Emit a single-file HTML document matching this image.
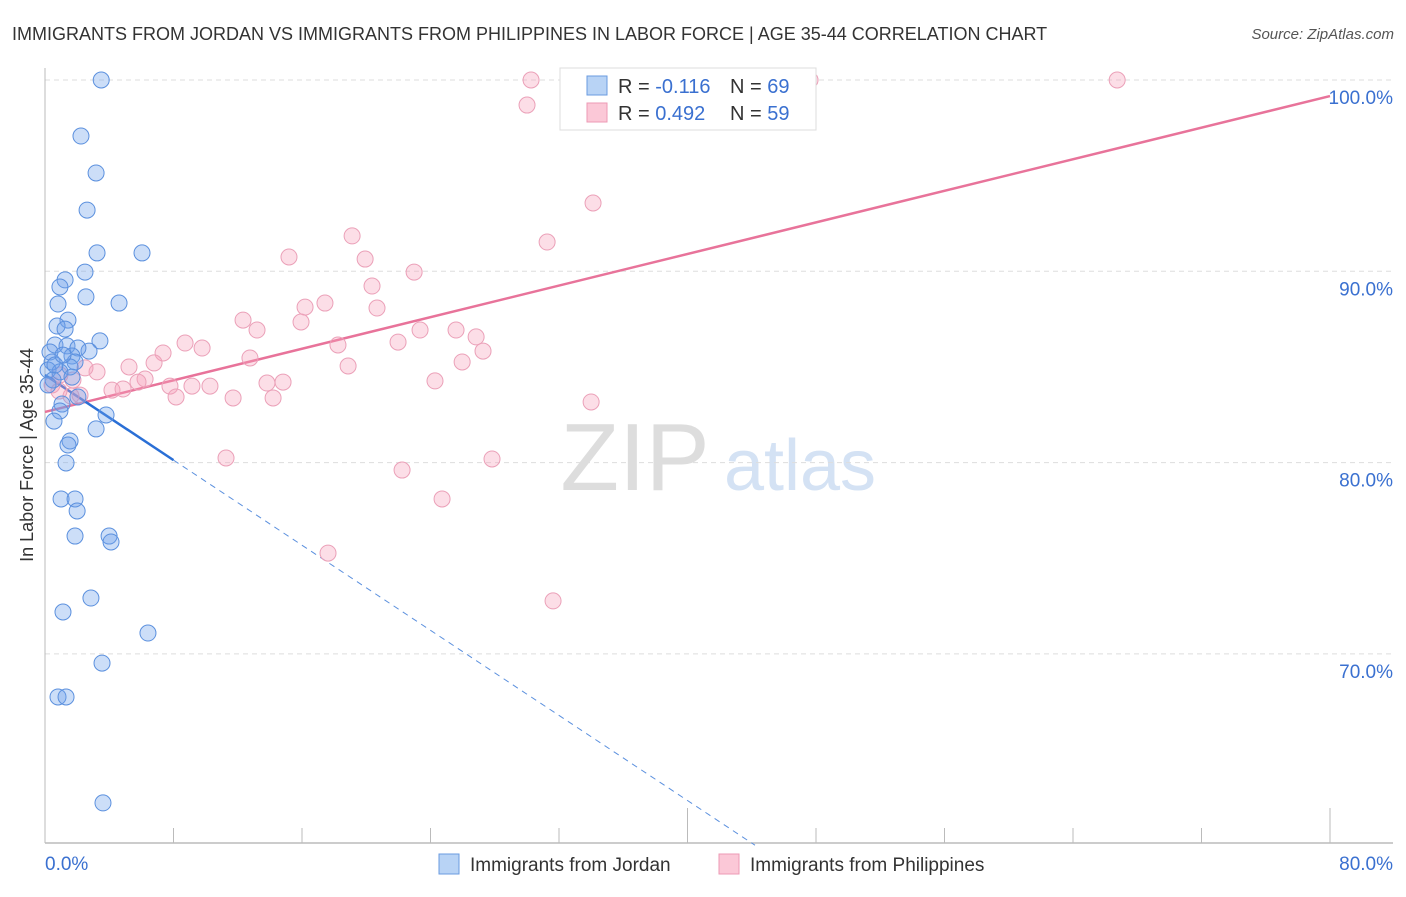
<!DOCTYPE html>
<html><head><meta charset="utf-8"><style>
body{margin:0;background:#fff;font-family:"Liberation Sans",sans-serif;}
svg text{font-family:"Liberation Sans",sans-serif;}
</style></head><body>
<svg id="chart" width="1406" height="892" viewBox="0 0 1406 892" xmlns="http://www.w3.org/2000/svg">
<text x="12" y="40" font-size="18" fill="#333">IMMIGRANTS FROM JORDAN VS IMMIGRANTS FROM PHILIPPINES IN LABOR FORCE | AGE 35-44 CORRELATION CHART</text>
<text x="1394" y="39" font-size="15" fill="#555" font-style="italic" text-anchor="end">Source: ZipAtlas.com</text>
<g>
<text x="635" y="490" font-size="96" fill="#ddd" text-anchor="middle" font-family="Liberation Serif,serif">ZIP</text>
<text x="800" y="490" font-size="72" fill="#d4e2f4" text-anchor="middle">atlas</text>
</g>
<g id="grid"></g>
<g id="axes"></g>
<g id="lines"></g>
<g id="points"></g>
<text transform="translate(33,455) rotate(-90)" font-size="18" fill="#333" text-anchor="middle">In Labor Force | Age 35-44</text>
<g>
<rect x="560" y="68" width="256" height="62" fill="#fff" stroke="#ddd"/>
<rect x="587" y="76" width="20" height="19" fill="#b8d3f5" stroke="#6a9be0"/>
<rect x="587" y="103" width="20" height="19" fill="#fbc8d7" stroke="#ec9ab4"/>
<text x="618" y="93" font-size="20" fill="#333">R = <tspan fill="#3a70d0">-0.116</tspan></text>
<text x="730" y="93" font-size="20" fill="#333">N = <tspan fill="#3a70d0">69</tspan></text>
<text x="618" y="120" font-size="20" fill="#333">R = <tspan fill="#3a70d0">0.492</tspan></text>
<text x="730" y="120" font-size="20" fill="#333">N = <tspan fill="#3a70d0">59</tspan></text>
</g>
<g>
<rect x="439" y="854" width="20" height="20" fill="#b8d3f5" stroke="#6a9be0"/>
<text x="470" y="871" font-size="19" fill="#333">Immigrants from Jordan</text>
<rect x="719" y="854" width="20" height="20" fill="#fbc8d7" stroke="#ec9ab4"/>
<text x="750" y="871" font-size="19" fill="#333">Immigrants from Philippines</text>
</g>
</svg>
<script>
const xTicks=[0,8,16,24,32,40,48,56,64,72,80];
const yTicks=[100,90,80,70];
const yTickLabels=["100.0%","90.0%","80.0%","70.0%"];
const blueX=[3.5,2.24,3.18,2.62,3.24,6.04,2.49,1.25,0.93,2.55,0.81,4.61,1.43,0.75,1.25,3.42,0.62,1.37,2.74,2.05,1.68,0.31,0.44,1.87,1.56,0.19,0.93,1.68,0.5,0.19,2.05,1.06,0.93,3.8,3.18,0.56,1.56,1.43,1.31,1.0,1.87,2.0,1.87,3.99,4.11,2.86,1.12,6.41,3.55,0.81,1.31,3.61,0.62,1.12];
const blueY=[100,97.07,95.14,93.2,90.96,90.96,89.96,89.55,89.18,88.66,88.29,88.34,87.45,87.14,86.98,86.36,86.15,86.1,85.83,85.99,85.57,85.78,85.26,85.26,85.0,84.84,84.74,84.47,84.32,84.06,83.43,83.06,82.7,82.49,81.76,82.17,81.13,80.92,79.98,78.1,78.1,77.47,76.16,76.16,75.85,72.92,72.19,71.09,69.52,67.75,67.75,62.21,85.1,85.62];
const pinkX=[30.26,47.63,66.75,30.01,34.12,19.12,31.26,15.19,19.93,22.98,20.36,17.43,16.19,20.67,12.33,15.94,13.2,23.35,25.59,26.84,8.72,18.24,9.78,21.98,27.27,12.76,7.35,6.79,25.97,18.87,5.23,3.24,6.23,5.79,13.82,14.82,24.28,7.78,9.15,10.27,4.17,4.86,8.16,11.71,14.2,1.62,2.18,0.87,0.44,34.0,11.27,27.83,22.23,24.72,17.62,31.63,1.74,2.49,0.93];
const pinkY=[100,100,100,98.69,93.57,91.85,91.53,90.75,90.64,89.96,89.23,88.34,88.13,88.08,87.45,87.35,86.93,86.93,86.93,86.57,86.25,86.15,85.99,86.3,85.83,85.47,85.73,85.21,85.26,85.05,85.0,84.74,84.37,84.21,84.16,84.21,84.27,84.0,84.0,84.0,83.79,83.85,83.43,83.38,83.38,83.48,83.53,83.74,84.06,83.17,80.24,80.19,79.61,78.1,75.27,72.77,84.32,84.95,84.58];
const blueTrend=[[0,84.58],[8,80.13],[44.2,60]];
const pinkTrend=[[0,82.65],[80,99.16]];
const X=v=>45+v*(1285/80);
const Y=v=>80+(100-v)*19.13;
const NS="http://www.w3.org/2000/svg";
function mk(tag,attrs,parent){const e=document.createElementNS(NS,tag);for(const k in attrs)e.setAttribute(k,attrs[k]);parent.appendChild(e);return e;}
const grid=document.getElementById('grid'),axes=document.getElementById('axes'),lines=document.getElementById('lines'),pts=document.getElementById('points');
yTicks.forEach((t,i)=>{
 const l=mk('line',{x1:45,x2:1393,y1:Y(t),y2:Y(t),stroke:'#ddd','stroke-dasharray':'5,4'},grid);
 
 
 const tx=mk('text',{x:1393,y:Y(t)+24,'font-size':19,fill:'#3a70d0','text-anchor':'end'},axes);
 tx.textContent=yTickLabels[i];
 
 
});
const ax=mk('line',{x1:45,x2:45,y1:68,y2:843,stroke:'#bbb'},axes);


const bx=mk('line',{x1:45,x2:1393,y1:843,y2:843,stroke:'#bbb','stroke-width':1.5},axes);


xTicks.forEach(t=>{
 const tall=(t===40||t===80);
 const k=mk('line',{x1:X(t),x2:X(t),y1:tall?808:828,y2:843,stroke:'#bbb'},axes);
 
 
});
const xl0=mk('text',{x:45,y:870,'font-size':19,fill:'#3a70d0'},axes);xl0.textContent='0.0%';


const xl1=mk('text',{x:1393,y:870,'font-size':19,fill:'#3a70d0','text-anchor':'end'},axes);xl1.textContent='80.0%';


pinkX.forEach((v,i)=>{
 const c=mk('circle',{cx:X(v),cy:Y(pinkY[i]),r:8,fill:'rgba(245,160,185,0.35)',stroke:'#eba0b8','stroke-width':1},pts);
 
 
});
blueX.forEach((v,i)=>{
 const c=mk('circle',{cx:X(v),cy:Y(blueY[i]),r:8,fill:'rgba(110,160,235,0.35)',stroke:'#5b90de','stroke-width':1},pts);
 
 
});
const pl=mk('line',{x1:X(pinkTrend[0][0]),y1:Y(pinkTrend[0][1]),x2:X(pinkTrend[1][0]),y2:Y(pinkTrend[1][1]),stroke:'#e8739a','stroke-width':2.5},lines);


const bl=mk('line',{x1:X(blueTrend[0][0]),y1:Y(blueTrend[0][1]),x2:X(blueTrend[1][0]),y2:Y(blueTrend[1][1]),stroke:'#2a6fd6','stroke-width':2.5},lines);


const bd=mk('line',{x1:X(blueTrend[1][0]),y1:Y(blueTrend[1][1]),x2:X(blueTrend[2][0]),y2:Y(blueTrend[2][1]),stroke:'#5b90de','stroke-width':1,'stroke-dasharray':'6,5'},lines);


</script>
</body></html>
